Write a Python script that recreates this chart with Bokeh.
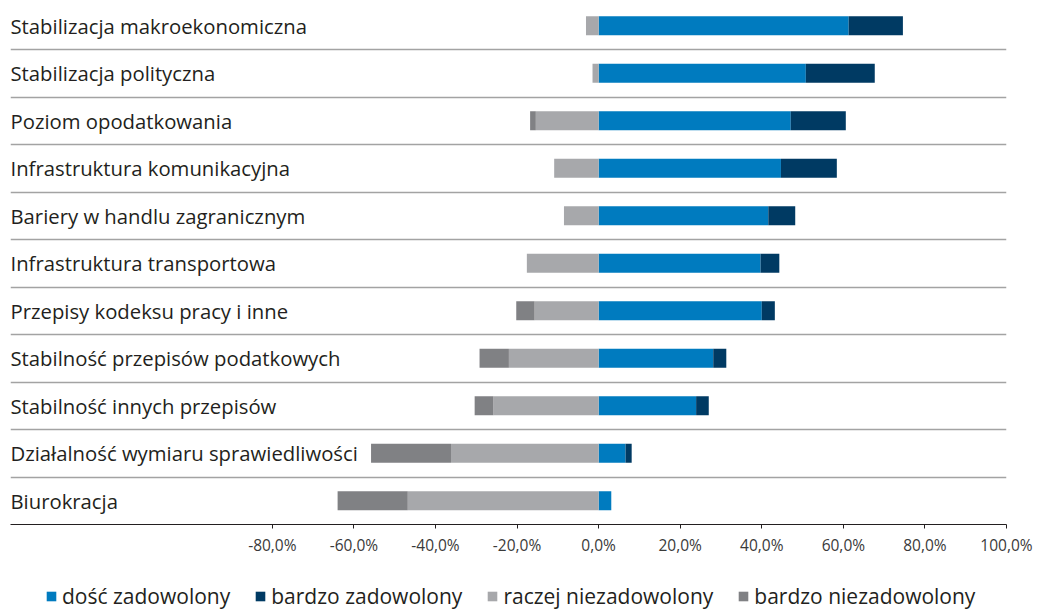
import numpy as np
from bokeh.plotting import figure
from bokeh.layouts import column
from bokeh.models import ColumnDataSource, Range1d, FixedTicker, Legend, LegendItem
from bokeh.core.properties import value
from bokeh.embed import file_html
from bokeh.resources import INLINE

categories = [
    "Stabilizacja makroekonomiczna",
    "Stabilizacja polityczna",
    "Poziom opodatkowania",
    "Infrastruktura komunikacyjna",
    "Bariery w handlu zagranicznym",
    "Infrastruktura transportowa",
    "Przepisy kodeksu pracy i inne",
    "Stabilność przepisów podatkowych",
    "Stabilność innych przepisów",
    "Działalność wymiaru sprawiedliwości",
    "Biurokracja",
]
dosc_zadowolony = [61.3, 50.8, 47.1, 44.7, 41.6, 39.7, 40.0, 28.1, 23.9, 6.6, 3.1]
bardzo_zadowolony = [13.3, 16.9, 13.5, 13.7, 6.6, 4.6, 3.2, 3.2, 3.1, 1.5, 0.0]
raczej_niezadowolony = [3.1, 1.5, 15.4, 10.9, 8.5, 17.6, 15.7, 22.0, 25.8, 36.2, 46.8]
bardzo_niezadowolony = [0.0, 0.0, 1.4, 0.0, 0.0, 0.0, 4.5, 7.2, 4.6, 19.6, 17.2]

series_names = ["dość zadowolony", "bardzo zadowolony", "raczej niezadowolony", "bardzo niezadowolony"]
colors = ["#007bbf", "#003a63", "#a7a8ab", "#808184"]

tick_values = [-80, -60, -40, -20, 0, 20, 40, 60, 80, 100]
tick_labels = ["-80,0%", "-60,0%", "-40,0%", "-20,0%", "0,0%", "20,0%", "40,0%", "60,0%", "80,0%", "100,0%"]

n = len(categories)
ypos = np.arange(n)[::-1].astype(float)  # top row -> n-1

dz = np.array(dosc_zadowolony)
bz = np.array(bardzo_zadowolony)
rn = np.array(raczej_niezadowolony)
bn = np.array(bardzo_niezadowolony)

src = ColumnDataSource(dict(
    y=ypos, cat=categories,
    dz_l=np.zeros(n), dz_r=dz,
    bz_l=dz, bz_r=dz + bz,
    rn_l=-rn, rn_r=np.zeros(n),
    bn_l=-(rn + bn), bn_r=-rn,
))

XMIN, XMAX = -144.2, 100.0
FRAME_H = 524
ROW_PX = 47.5
p = figure(width=1044, height=568, output_backend="svg", toolbar_location=None,
           x_range=Range1d(XMIN, XMAX), y_range=Range1d(-0.5, -0.5 + FRAME_H / ROW_PX),
           min_border_left=10, min_border_right=38, min_border_top=0, min_border_bottom=568 - FRAME_H)
p.outline_line_color = None
p.background_fill_color = "white"
p.border_fill_color = "white"

bh = 0.4
p.hbar(y="y", left="dz_l", right="dz_r", height=bh, source=src, fill_color=colors[0], line_color=None)
p.hbar(y="y", left="bz_l", right="bz_r", height=bh, source=src, fill_color=colors[1], line_color=None)
p.hbar(y="y", left="rn_l", right="rn_r", height=bh, source=src, fill_color=colors[2], line_color=None)
p.hbar(y="y", left="bn_l", right="bn_r", height=bh, source=src, fill_color=colors[3], line_color=None)

src_lbl = ColumnDataSource(dict(x=[XMIN] * n, y=ypos, t=categories))
p.text(x="x", y="y", text="t", source=src_lbl, text_align="left", text_baseline="middle",
       text_font=value("Open Sans"), text_font_size="20.3px", text_color="#231f20", x_offset=0)

p.xgrid.visible = False
p.yaxis.visible = False
p.ygrid.ticker = FixedTicker(ticks=[i + 0.5 for i in range(n - 1)])
p.ygrid.grid_line_color = "#a3a3a3"
p.ygrid.grid_line_width = 1.5

ax = p.xaxis[0]
ax.ticker = FixedTicker(ticks=tick_values)
ax.major_label_overrides = {v: l for v, l in zip(tick_values, tick_labels)}
ax.axis_line_color = "#231f20"
ax.axis_line_width = 1
ax.major_tick_line_color = "#231f20"
ax.major_tick_out = 4
ax.major_tick_in = 0
ax.minor_tick_out = 0
ax.minor_tick_in = 0
ax.major_label_standoff = 5
ax.major_label_text_font = "Open Sans"
ax.major_label_text_font_size = "15.5px"
ax.major_label_text_color = "#3a3a3a"

# Legend figure (swatch-only renderers with zero-size marks)
pl = figure(width=1044, height=42, output_backend="svg", toolbar_location=None,
            x_range=Range1d(0, 1), y_range=Range1d(0, 1),
            min_border_left=0, min_border_right=0, min_border_top=0, min_border_bottom=0)
pl.outline_line_color = None
pl.axis.visible = False
pl.grid.visible = False
swatch_src = ColumnDataSource(dict(y=[0.5], l=[0.0], r=[0.0]))
legend_renderers = [pl.hbar(y="y", left="l", right="r", height=0.0, source=swatch_src,
                            fill_color=c, line_color=None) for c in colors]

legend = Legend(items=[LegendItem(label=nm, renderers=[r]) for nm, r in zip(series_names, legend_renderers)],
                orientation="horizontal", location=(35, 0))
legend.glyph_width = 12
legend.glyph_height = 12
legend.label_standoff = 5
legend.spacing = 24
legend.margin = 0
legend.padding = 0
legend.border_line_color = None
legend.background_fill_alpha = 0
legend.label_text_font = "Open Sans"
legend.label_text_font_size = "21px"
legend.label_text_color = "#231f20"
pl.add_layout(legend, "center")

layout = column(p, pl, spacing=0)
open("out.html", "w").write(file_html(layout, INLINE))
